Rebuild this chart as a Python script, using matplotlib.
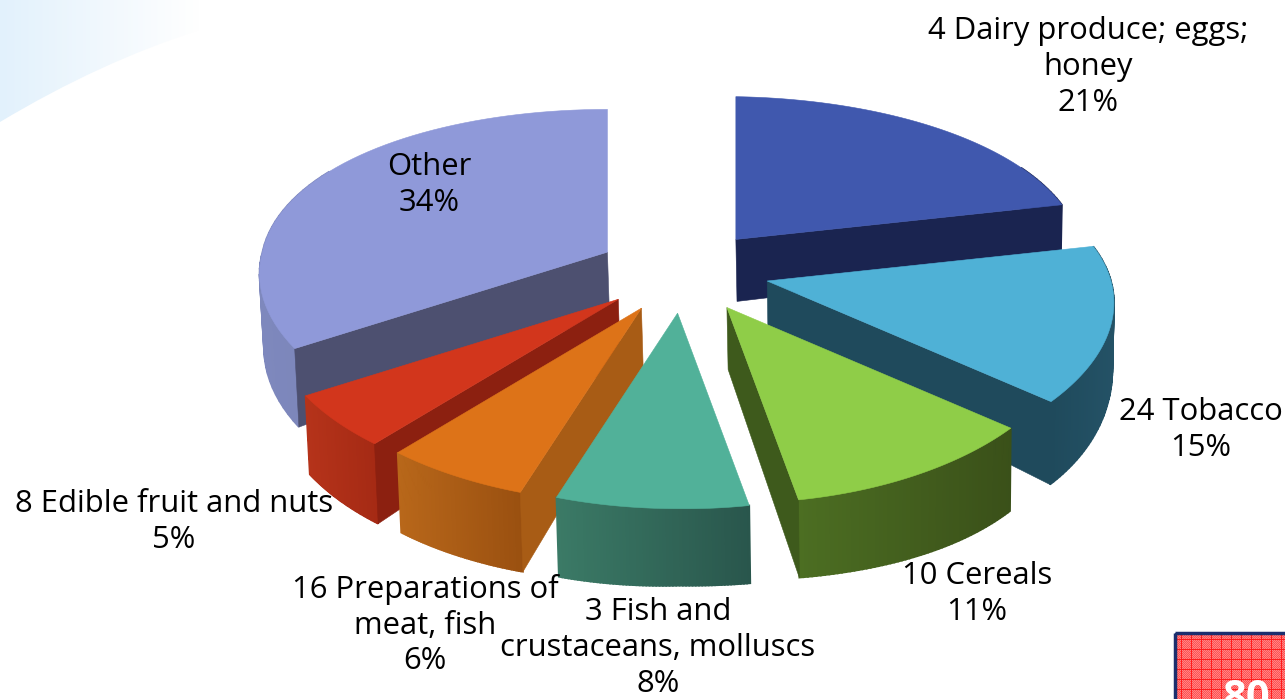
import numpy as np
import matplotlib
matplotlib.use("Agg")
import matplotlib.pyplot as plt
from matplotlib.colors import to_rgb
from matplotlib.patches import Polygon, Rectangle, PathPatch
from matplotlib.path import Path

plt.rcParams["font.family"] = ["Open Sans", "DejaVu Sans"]

# share of each chapter, clockwise from 12 o'clock
categories = ["4 Dairy produce; eggs;\nhoney", "24 Tobacco", "10 Cereals",
              "3 Fish and\ncrustaceans, molluscs", "16 Preparations of\nmeat, fish",
              "8 Edible fruit and nuts", "Other"]
shares = [21, 15, 11, 8, 6, 5, 34]

top_cols = ["#4058ae", "#4fb1d6", "#8fcd48", "#51b199", "#dd7318", "#d2361c", "#8f99d9"]
cut_cols = ["#1a2450", "#1f4a5c", "#3e5a1c", "#2a5a50", "#a85c15", "#8c2010", "#4d5070"]
wall_left = ["#1a2450", "#1f4a5c", "#4c6e22", "#3b7a66", "#b8671a", "#b5331a", "#7e88bd"]
wall_right = ["#1a2450", "#245266", "#3a5019", "#29564c", "#9a5010", "#a52a14", "#6f78a8"]
# label centres (pixels)
label_x = [1088, 1201, 977, 658, 425, 174, 429]
label_y = [67, 430, 594, 648, 625, 522, 185]

W, H = 1285, 699
CX, CY = 683, 272      # pie centre before the explode
RX, RY = 345, 165
PERSP_X, PERSP_Y = 0.10, 0.156
EXPLODE = 0.25


def rim(apex, theta):
    # project a point on the rim, far side of the pie comes out smaller
    xx, yy = np.sin(theta), np.cos(theta)
    widen = 1 + 0.03 * max(-yy, 0) if xx < 0 else 1
    px = apex[0] + RX * xx * widen / (1 + PERSP_X * yy)
    py = apex[1] - RY * yy / (1 + PERSP_Y * yy) + 5 * max(xx, 0)
    return px, py


def drop(px, py, xx, yy):
    # point under the top surface; depth shrinks towards the back
    h = 62 - 15 * yy + 30 * max(xx, 0) ** 2 * max(-yy, 0) + 10 * max(-xx, 0)
    return px + (900 - px) * 0.007, py + h


fig = plt.figure(figsize=(W / 100, H / 100), dpi=100)
ax = fig.add_axes([0, 0, 1, 1])
ax.set_xlim(0, W)
ax.set_ylim(H, 0)
ax.axis("off")

# pale blue corner of the slide
grad = np.ones((2, 200, 3))
for c in range(3):
    grad[:, :, c] = np.linspace(to_rgb("#e2f1fc")[c], 1, 200)
img = ax.imshow(grad, extent=[0, 200, 125, 0], aspect="auto", zorder=0)
corner = Path([(0, 0), (200, 0), (200, 30), (100, 62), (0, 122), (0, 0)],
              [Path.MOVETO, Path.LINETO, Path.LINETO, Path.CURVE3, Path.CURVE3, Path.CLOSEPOLY])
clip = PathPatch(corner, transform=ax.transData, fc="none", ec="none")
ax.add_patch(clip)
img.set_clip_path(clip)

edges = np.cumsum([0] + shares) / sum(shares) * 2 * np.pi
mids = (edges[:-1] + edges[1:]) / 2
apexes = [(CX + RX * EXPLODE * np.sin(m), CY - RY * EXPLODE * np.cos(m)) for m in mids]

# back slices first
order = np.argsort([a[1] for a in apexes])
for z, i in enumerate(order):
    t0, t1 = edges[i], edges[i + 1]
    apex = apexes[i]
    zo = 2 + z

    # outer wall as thin strips so the shade can run along it
    tt = np.linspace(t0, t1, 60)
    xs = [rim(apex, t)[0] for t in tt]
    c0, c1 = np.array(to_rgb(wall_left[i])), np.array(to_rgb(wall_right[i]))
    for k in range(len(tt) - 1):
        if np.cos(tt[k]) > 0.5:
            continue  # back of the pie, never seen
        a = rim(apex, tt[k])
        b = rim(apex, tt[k + 1])
        a2 = drop(a[0], a[1], np.sin(tt[k]), np.cos(tt[k]))
        b2 = drop(b[0], b[1], np.sin(tt[k + 1]), np.cos(tt[k + 1]))
        f = (0.5 * (a[0] + b[0]) - min(xs)) / (max(xs) - min(xs))
        col = c0 + (c1 - c0) * f
        ax.add_patch(Polygon([a, b, b2, a2], closed=True, fc=col, ec=col, lw=1.2, zorder=zo))

    # cut faces that can be seen
    for t, show in ((t1, t1 < np.radians(175)), (t0, t0 > np.radians(190))):
        if show:
            e = rim(apex, t)
            ax.add_patch(Polygon([apex, e, drop(e[0], e[1], np.sin(t), np.cos(t)),
                                  drop(apex[0], apex[1], 0, 0)],
                                 closed=True, fc=cut_cols[i], ec=cut_cols[i], lw=0.4, zorder=zo))

    # top surface
    pts = [apex] + [rim(apex, t) for t in tt]
    ax.add_patch(Polygon(pts, closed=True, fc=top_cols[i], ec=top_cols[i], lw=0.4, zorder=zo))

for i, name in enumerate(categories):
    ax.text(label_x[i], label_y[i], f"{name}\n{shares[i]}%", ha="center", va="center",
            fontsize=22.3, color="black", linespacing=1.26, zorder=30)

# page number box, cut by the slide edge: fine pink dither with a red grid on it
yy, xx = np.mgrid[0:64, 0:108]
tile = np.where((xx + yy) % 2 == 0, 0.52, 0.32)
box = np.dstack([np.ones_like(tile), tile, tile])
box[(yy % 10 == 4) | (xx % 10 == 4)] = to_rgb("#ff1c1c")
ax.imshow(box, extent=[1177, 1285, 699, 635], aspect="auto", interpolation="nearest", zorder=20)
ax.add_patch(Rectangle((1175, 633), 115, 70, fc="none", ec="#1c2f6e", lw=2.5, zorder=21))
ax.text(1246, 699, "80", color="white", fontsize=30, fontweight="bold", ha="center",
        va="center", zorder=22)

ax.set_xlim(0, W)
ax.set_ylim(H, 0)
fig.savefig("out.png", dpi=100)
